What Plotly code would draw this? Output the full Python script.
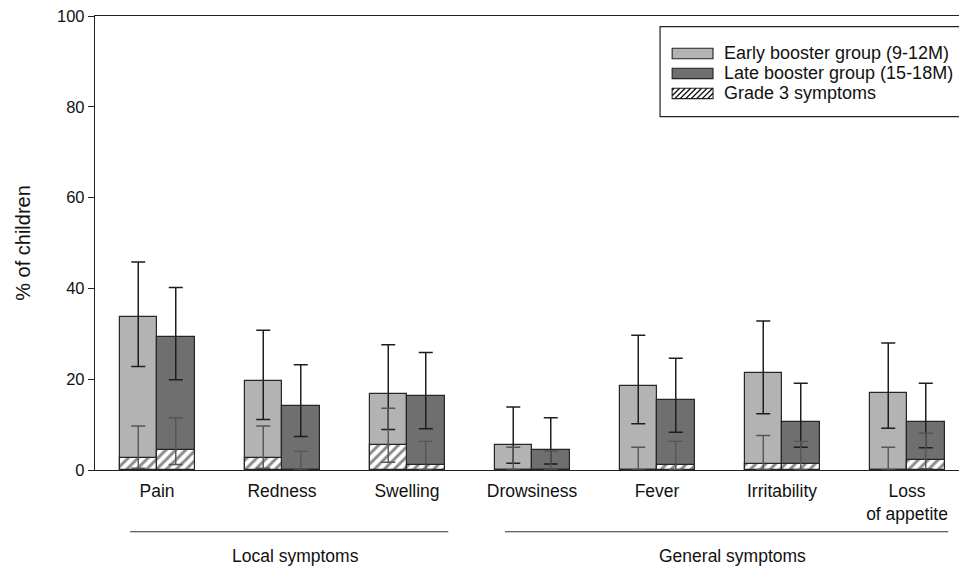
import plotly.graph_objects as go

# Solicited adverse events after the booster dose (% of children, with 95% CI)
categories = ["Pain", "Redness", "Swelling", "Drowsiness", "Fever", "Irritability", "Loss<br>of appetite"]

early_name = "Early booster group (9-12M)"
late_name = "Late booster group (15-18M)"
grade3_name = "Grade 3 symptoms"

early_pct = [33.6, 19.6, 16.8, 5.6, 18.5, 21.3, 16.9]
early_hi = [45.8, 30.8, 27.6, 13.9, 29.7, 32.8, 28.0]
early_lo = [22.8, 11.1, 8.9, 1.5, 10.2, 12.4, 9.2]

late_pct = [29.3, 14.1, 16.4, 4.5, 15.4, 10.5, 10.5]
late_hi = [40.2, 23.2, 25.9, 11.5, 24.6, 19.1, 19.1]
late_lo = [19.9, 7.4, 9.1, 1.3, 8.3, 5.0, 4.9]

early_g3 = [2.6, 2.6, 5.6, 0.0, 0.0, 1.4, 0.0]
early_g3_hi = [9.7, 9.7, 13.6, 5.0, 5.0, 7.6, 5.0]
early_g3_lo = [0.4, 0.4, 1.7, 0.0, 0.0, 0.1, 0.0]

late_g3 = [4.5, 0.0, 1.1, 0.0, 1.1, 1.3, 2.2]
late_g3_hi = [11.5, 4.1, 6.3, 4.2, 6.3, 6.3, 8.1]
late_g3_lo = [1.2, 0.0, 0.1, 0.0, 0.1, 0.1, 0.3]

groups = [("Local symptoms", 0, 2), ("General symptoms", 3, 6)]

EARLY_FILL = "#b3b3b3"
LATE_FILL = "#6f6f6f"
EDGE = "#262626"
FONT = "Liberation Sans, Arial, sans-serif"
BAR_W = 0.3

# plot-area size in px (used to lay out the hand-drawn legend)
PLOT_W = 864
PLOT_H = 454.5

xs = list(range(len(categories)))


def err(vals, hi, lo, color, thick):
    return dict(
        type="data", symmetric=False,
        array=[h - v for v, h in zip(vals, hi)],
        arrayminus=[v - l for v, l in zip(vals, lo)],
        color=color, thickness=thick, width=7,
    )


fig = go.Figure()

fig.add_bar(x=xs, y=early_pct, name=early_name, width=BAR_W, offset=-BAR_W,
            marker=dict(color=EARLY_FILL, line=dict(color=EDGE, width=1.2)),
            error_y=err(early_pct, early_hi, early_lo, "#1e1e1e", 1.5), showlegend=False)
fig.add_bar(x=xs, y=late_pct, name=late_name, width=BAR_W, offset=0,
            marker=dict(color=LATE_FILL, line=dict(color=EDGE, width=1.2)),
            error_y=err(late_pct, late_hi, late_lo, "#1e1e1e", 1.5), showlegend=False)

hatch = dict(shape="/", bgcolor="white", fgcolor="#111111", size=7, solidity=0.42, fillmode="overlay")
fig.add_bar(x=xs, y=early_g3, name=grade3_name, width=BAR_W, offset=-BAR_W,
            marker=dict(color="white", pattern=hatch, line=dict(color=EDGE, width=1.2)),
            error_y=err(early_g3, early_g3_hi, early_g3_lo, "#555555", 1.4), showlegend=False)
fig.add_bar(x=xs, y=late_g3, name=grade3_name, width=BAR_W, offset=0,
            marker=dict(color="white", pattern=hatch, line=dict(color=EDGE, width=1.2)),
            error_y=err(late_g3, late_g3_hi, late_g3_lo, "#555555", 1.4), showlegend=False)

shapes = []
annotations = []

# Bracket lines and labels for the two symptom groups
for label, i0, i1 in groups:
    x0 = i0 - 0.216
    x1 = i1 + 0.33
    shapes.append(dict(type="line", xref="x", yref="paper", x0=x0, x1=x1, y0=-0.136, y1=-0.136,
                       line=dict(color="#333333", width=1.2)))
    annotations.append(dict(xref="x", yref="paper", x=(x0 + x1) / 2 + 0.05, y=-0.19, text=label,
                            showarrow=False, font=dict(family=FONT, size=17.5, color="#111111"),
                            xanchor="center", yanchor="middle"))

# Legend box with swatches
shapes.append(dict(type="rect", xref="paper", yref="paper", x0=0.654, x1=1.06, y0=0.7784, y1=0.9765,
                   line=dict(color="#222222", width=1.2), fillcolor="white", layer="above"))
legend_rows = [(early_name, EARLY_FILL), (late_name, LATE_FILL), (grade3_name, None)]
row_y = [0.9175, 0.8735, 0.8295]
sw_x0, sw_x1 = 0.668, 0.7153
sw_h = 0.0115
for (label, fill), yc in zip(legend_rows, row_y):
    shapes.append(dict(type="rect", xref="paper", yref="paper", x0=sw_x0, x1=sw_x1,
                       y0=yc - sw_h, y1=yc + sw_h, fillcolor=fill if fill else "white",
                       line=dict(color="#222222", width=1.1), layer="above"))
    if fill is None:
        # diagonal hatching inside the swatch
        w_px = (sw_x1 - sw_x0) * PLOT_W
        h_px = 2 * sw_h * PLOT_H
        step = 5.5
        path = ""
        k = -h_px + 2
        while k < w_px:
            ax, ay = k, 0.0
            bx, by = k + h_px, h_px
            if ax < 0:
                ay = -ax
                ax = 0.0
            if bx > w_px:
                by = h_px - (bx - w_px)
                bx = w_px
            if by > ay:
                px0 = sw_x0 + ax / PLOT_W
                py0 = yc - sw_h + ay / PLOT_H
                px1 = sw_x0 + bx / PLOT_W
                py1 = yc - sw_h + by / PLOT_H
                path += f"M{px0},{py0} L{px1},{py1} "
            k += step
        shapes.append(dict(type="path", xref="paper", yref="paper", path=path,
                           line=dict(color="#111111", width=1.4), layer="above"))
    annotations.append(dict(xref="paper", yref="paper", x=0.7262, y=yc, text=label, showarrow=False,
                            xanchor="left", yanchor="middle",
                            font=dict(family=FONT, size=18, color="#111111")))

fig.update_layout(
    width=959, height=569,
    margin=dict(l=95, r=0, t=16, b=98.5),
    plot_bgcolor="white", paper_bgcolor="white",
    barmode="overlay",
    bargap=0,
    shapes=shapes,
    annotations=annotations,
    font=dict(family=FONT, color="#111111"),
    xaxis=dict(
        range=[-0.496, 6.416], tickmode="array", tickvals=xs, ticktext=categories,
        showline=True, linecolor="#222222", linewidth=1.3, mirror=True,
        ticks="", showgrid=False, zeroline=False, ticklabelstandoff=5,
        tickfont=dict(family=FONT, size=17.5, color="#111111"),
    ),
    yaxis=dict(
        range=[0, 100], tickvals=[0, 20, 40, 60, 80, 100],
        showline=True, linecolor="#222222", linewidth=1.3,
        ticks="outside", ticklen=6, tickcolor="#222222", tickwidth=1.3,
        showgrid=False, zeroline=False,
        tickfont=dict(family=FONT, size=16.5, color="#111111"),
        title=dict(text="% of children", font=dict(family=FONT, size=20, color="#111111"), standoff=21),
    ),
)

fig.write_html("out.html")
